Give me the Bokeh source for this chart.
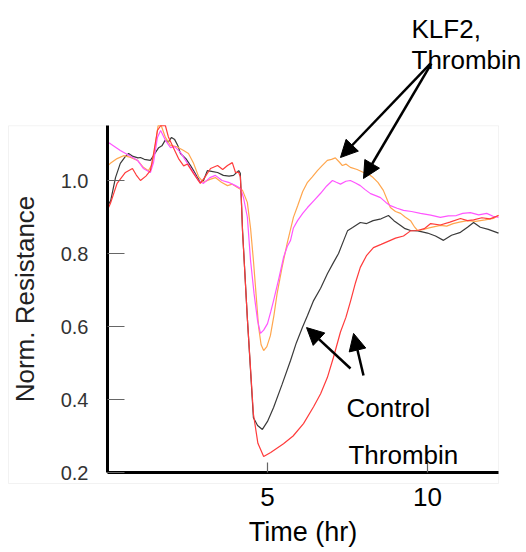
from bokeh.plotting import figure
from bokeh.models import Range1d, FixedTicker, Label, Arrow, NormalHead, BoxAnnotation
from bokeh.embed import file_html
from bokeh.resources import INLINE

FONT = "Liberation Sans"

# ---- data ----
ctrl_x = [0.0, 0.1, 0.25, 0.4, 0.55, 0.66, 0.8, 0.95, 1.03, 1.15, 1.34, 1.45, 1.6, 1.7, 1.8, 1.9, 2.0, 2.1, 2.2,
          2.28, 2.45, 2.6, 2.69, 2.8, 2.9, 3.0, 3.12, 3.25, 3.44, 3.62, 3.8, 3.94, 4.1, 4.15, 4.19, 4.22, 4.375,
          4.56, 4.69, 4.84, 5.0, 5.19, 5.45, 5.72, 5.9, 6.09, 6.25, 6.44, 6.66, 6.875, 7.06, 7.22, 7.4, 7.5, 7.66,
          7.9, 8.1, 8.3, 8.55, 8.78, 8.95, 9.16, 9.3, 9.47, 9.7, 10.0, 10.25, 10.5, 10.75, 11.03, 11.25, 11.44,
          11.65, 11.9, 12.22]
ctrl_y = [0.93, 0.945, 1.008, 1.047, 1.065, 1.074, 1.066, 1.062, 1.063, 1.058, 1.055, 1.07, 1.09, 1.095, 1.11,
          1.105, 1.118, 1.112, 1.095, 1.074, 1.06, 1.04, 1.027, 1.01, 0.995, 1.0, 1.027, 1.025, 1.022, 1.014,
          1.012, 1.014, 1.027, 1.02, 0.93, 0.863, 0.616, 0.35, 0.329, 0.318, 0.34, 0.378, 0.44, 0.507, 0.555,
          0.597, 0.63, 0.671, 0.705, 0.745, 0.775, 0.8, 0.84, 0.862, 0.871, 0.885, 0.882, 0.89, 0.895, 0.904,
          0.89, 0.877, 0.868, 0.863, 0.862, 0.856, 0.848, 0.836, 0.85, 0.858, 0.872, 0.885, 0.872, 0.866, 0.856]

thr_x = [0.0, 0.09, 0.3, 0.56, 0.78, 0.9, 1.03, 1.2, 1.34, 1.44, 1.56, 1.66, 1.81, 1.9, 2.06, 2.22, 2.38, 2.5,
         2.69, 2.9, 3.05, 3.22, 3.44, 3.6, 3.75, 3.9, 4.0, 4.1, 4.15, 4.17, 4.22, 4.375, 4.56, 4.7, 4.88, 5.1,
         5.5, 5.8, 6.125, 6.44, 6.66, 6.87, 7.06, 7.28, 7.45, 7.6, 7.75, 7.9, 8.1, 8.31, 8.55, 8.84, 9.0, 9.25,
         9.47, 9.69, 9.9, 10.1, 10.4, 10.7, 11.03, 11.25, 11.44, 11.7, 11.95, 12.22]
thr_y = [0.92, 0.937, 0.992, 1.022, 1.033, 1.015, 1.0, 1.012, 1.027, 1.074, 1.137, 1.15, 1.15, 1.12, 1.09, 1.06,
         1.04, 1.045, 1.019, 0.992, 1.01, 1.033, 1.041, 1.03, 1.041, 1.049, 1.022, 1.022, 1.01, 0.98, 0.86,
         0.616, 0.36, 0.28, 0.244, 0.255, 0.279, 0.3, 0.334, 0.38, 0.416, 0.46, 0.515, 0.585, 0.625, 0.671,
         0.72, 0.762, 0.795, 0.816, 0.825, 0.836, 0.842, 0.848, 0.862, 0.863, 0.868, 0.882, 0.878, 0.886, 0.896,
         0.89, 0.892, 0.898, 0.895, 0.904]

klf_a_x = [0.0, 0.09, 0.3, 0.5, 0.7, 0.94, 1.12, 1.28, 1.4, 1.5, 1.58, 1.68, 1.81, 1.97, 2.18, 2.38, 2.53, 2.69,
           2.85, 3.0, 3.2, 3.37, 3.56, 3.75, 3.9, 4.06, 4.22, 4.37, 4.47, 4.56, 4.65, 4.72, 4.8, 4.88, 4.98, 5.09,
           5.2, 5.3, 5.45, 5.62, 5.81, 5.94, 6.1, 6.25, 6.4, 6.56, 6.7, 6.87, 7.0, 7.12, 7.25, 7.34, 7.45, 7.59,
           7.8, 8.0, 8.15, 8.3, 8.45, 8.62, 8.75, 8.84, 9.0, 9.16, 9.3, 9.47, 9.6, 9.69, 9.85, 10.05, 10.4, 10.6,
           10.8, 11.0, 11.25, 11.5, 11.8, 12.06, 12.22]
klf_a_y = [1.04, 1.047, 1.06, 1.068, 1.064, 1.055, 1.036, 1.027, 1.045, 1.1, 1.15, 1.15, 1.118, 1.096, 1.092,
           1.082, 1.074, 1.047, 1.01, 0.995, 1.003, 1.008, 0.995, 0.986, 0.99, 0.981, 0.973, 0.94, 0.87, 0.781,
           0.68, 0.6, 0.55, 0.534, 0.545, 0.575, 0.63, 0.69, 0.76, 0.83, 0.899, 0.93, 0.97, 0.995, 1.01, 1.027,
           1.04, 1.055, 1.058, 1.062, 1.05, 1.041, 1.045, 1.036, 1.03, 1.022, 1.018, 1.008, 0.995, 0.973, 0.945,
           0.926, 0.915, 0.91, 0.9, 0.89, 0.872, 0.863, 0.865, 0.87, 0.877, 0.875, 0.882, 0.886, 0.89, 0.888,
           0.892, 0.896, 0.905]

klf_b_x = [0.0, 0.09, 0.4, 0.65, 0.94, 1.12, 1.34, 1.44, 1.56, 1.66, 1.81, 1.97, 2.1, 2.28, 2.5, 2.69, 2.84,
           3.0, 3.2, 3.37, 3.58, 3.78, 4.0, 4.16, 4.25, 4.37, 4.47, 4.58, 4.69, 4.78, 4.88, 5.0, 5.1, 5.19, 5.35,
           5.5, 5.62, 5.72, 5.81, 5.94, 6.1, 6.25, 6.45, 6.66, 6.85, 7.03, 7.15, 7.28, 7.45, 7.59, 7.75, 7.9,
           8.05, 8.22, 8.4, 8.53, 8.7, 8.84, 9.05, 9.25, 9.5, 9.78, 10.1, 10.4, 10.65, 10.9, 11.1, 11.34, 11.6,
           11.85, 12.05, 12.22]
klf_b_y = [1.105, 1.101, 1.082, 1.07, 1.055, 1.033, 1.022, 1.05, 1.118, 1.137, 1.11, 1.09, 1.093, 1.077, 1.047,
           1.022, 1.0, 0.992, 1.008, 1.014, 1.0, 0.995, 0.986, 0.978, 0.953, 0.9, 0.781, 0.69, 0.616, 0.581,
           0.59, 0.608, 0.64, 0.671, 0.73, 0.789, 0.82, 0.836, 0.87, 0.89, 0.91, 0.926, 0.945, 0.965, 0.985, 1.0,
           0.995, 0.99, 0.998, 1.0, 0.993, 0.986, 0.975, 0.964, 0.958, 0.953, 0.94, 0.931, 0.924, 0.918, 0.915,
           0.91, 0.905, 0.899, 0.903, 0.904, 0.91, 0.912, 0.906, 0.91, 0.902, 0.899]

y_ticks = [0.2, 0.4, 0.6, 0.8, 1.0]
y_tick_labels = ["0.2", "0.4", "0.6", "0.8", "1.0"]
x_ticks = [5, 10]
x_tick_labels = ["5", "10"]
x_axis_bounds = (0, 12.22)
y_axis_bounds = (0.2, 1.15)

# ---- figure: the frame fills the whole canvas, axes sit at fixed positions ----
W, H = 526, 552
X0_PX, PX_PER_X = 107.0, 32.0      # pixel of x=0, pixels per hour
Y0_PX, PX_PER_Y = 472.0, 365.0     # pixel of y=0.2, pixels per unit
xr = Range1d(-X0_PX / PX_PER_X, (W - X0_PX) / PX_PER_X)
yr = Range1d(0.2 - (H - Y0_PX) / PX_PER_Y, 0.2 + Y0_PX / PX_PER_Y)

p = figure(width=W, height=H, x_range=xr, y_range=yr,
           output_backend="svg", toolbar_location=None,
           min_border_left=0, min_border_right=0, min_border_top=0, min_border_bottom=0)
p.grid.visible = False
p.outline_line_color = None
p.background_fill_color = "white"
p.border_fill_color = "white"

# light frame around the chart area
p.add_layout(BoxAnnotation(left=-99 / PX_PER_X, right=x_axis_bounds[1], bottom=0.2 - 11 / PX_PER_Y,
                           top=y_axis_bounds[1], fill_color=None, line_color="#d4d4d4", line_width=1,
                           level="underlay"))

xa, ya = p.xaxis[0], p.yaxis[0]
xa.fixed_location = y_axis_bounds[0]
ya.fixed_location = x_axis_bounds[0]
xa.bounds = x_axis_bounds
ya.bounds = y_axis_bounds

for ax in (xa, ya):
    ax.axis_line_color = "black"
    ax.axis_line_width = 3
    ax.major_tick_out = 0
    ax.minor_tick_line_color = None
    ax.major_tick_line_color = "#666666"
    ax.major_tick_line_width = 1.2

xa.ticker = FixedTicker(ticks=x_ticks)
xa.major_label_overrides = {t: l for t, l in zip(x_ticks, x_tick_labels)}
xa.major_tick_in = 10
xa.major_label_text_font = FONT
xa.major_label_text_font_size = "26px"
xa.major_label_text_color = "black"
xa.major_label_standoff = 15
xa.axis_label = "Time (hr)"
xa.axis_label_text_font = FONT
xa.axis_label_text_font_size = "27px"
xa.axis_label_text_font_style = "normal"
xa.axis_label_text_color = "black"
xa.axis_label_standoff = 8

ya.ticker = FixedTicker(ticks=y_ticks)
ya.major_label_overrides = {t: l for t, l in zip(y_ticks, y_tick_labels)}
ya.major_tick_in = 17
ya.major_label_text_font = FONT
ya.major_label_text_font_size = "20px"
ya.major_label_text_color = "#333333"
ya.major_label_standoff = 19
ya.axis_label = "Norm. Resistance"
ya.axis_label_text_font = FONT
ya.axis_label_text_font_size = "26px"
ya.axis_label_text_font_style = "normal"
ya.axis_label_text_color = "#222222"
ya.axis_label_standoff = 18
try:
    ya.major_label_background_fill_color = "#eef8f2"
except Exception:
    pass

# ---- curves ----
p.line(ctrl_x, ctrl_y, line_color="#3a3a3a", line_width=1.2)
p.line(klf_a_x, klf_a_y, line_color="#ffa64d", line_width=1.2)
p.line(klf_b_x, klf_b_y, line_color="#ff55ff", line_width=1.2)
p.line(thr_x, thr_y, line_color="#ff3b3b", line_width=1.2)

# ---- annotations ----
def lab(x, y, t):
    p.add_layout(Label(x=x, y=y, text=t, text_font=FONT, text_font_size="26px",
                       text_color="black", text_baseline="alphabetic", text_align="left"))

lab(9.5, 1.416, "KLF2,")
lab(9.5, 1.329, "Thrombin")
lab(7.47, 0.378, "Control")
lab(7.53, 0.2466, "Thrombin")

def arr(x0, y0, x1, y1):
    p.add_layout(Arrow(end=NormalHead(size=17, fill_color="black", line_color="black"),
                       x_start=x0, y_start=y0, x_end=x1, y_end=y1,
                       line_color="black", line_width=2.5))

arr(10.09, 1.3205, 7.28, 1.063)
arr(10.12, 1.3205, 8.0, 1.0055)
arr(7.594, 0.485, 6.22, 0.597)
arr(8.0, 0.4658, 7.69, 0.581)

open("out.html", "w").write(file_html(p, INLINE))
